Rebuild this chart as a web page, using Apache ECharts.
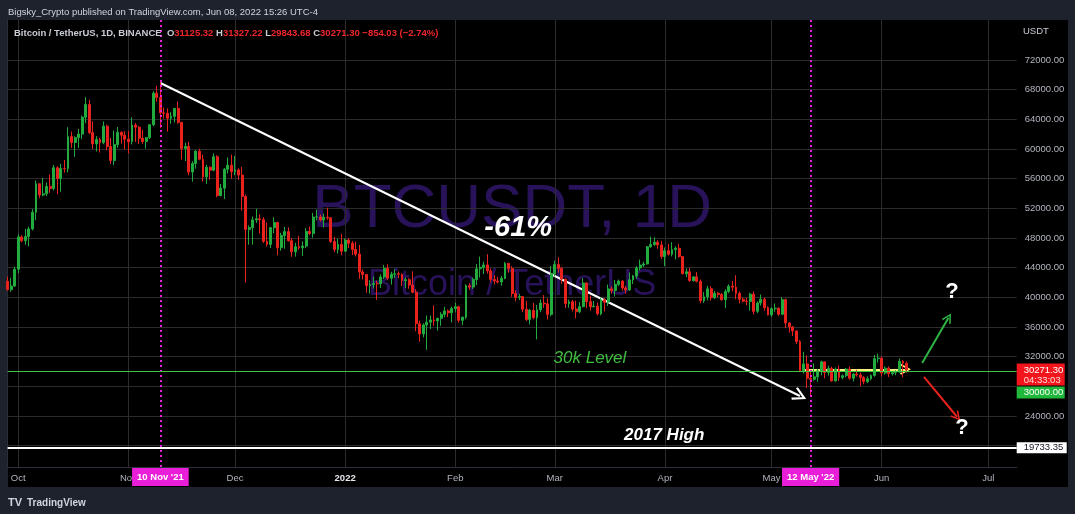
<!DOCTYPE html>
<html>
<head>
<meta charset="utf-8">
<script src="https://cdn.jsdelivr.net/npm/echarts@6/dist/echarts.min.js"></script>
<style>
html,body{margin:0;padding:0;background:#1e222d;}
#chart{width:1075px;height:514px;}
</style>
</head>
<body>
<div id="chart"></div>
<script>
// ---------------- DATA ----------------
const firstDay = '2021-09-28';
const axisDays = 285; // Sep 28 2021 .. Jul 9 2022 (axis span)

const opens = [
  42170, 41030, 41520,
  43790, 48140, 47630, 48200, 49220, 51470, 55320, 53790, 53950, 54950, 54660, 57470, 56010, 57370, 57350, 61670, 60880, 61530, 62010, 64280, 66000, 62210, 60690, 61290, 60860, 63080, 60330, 58450, 60590, 62250, 61860,
  61320, 61000, 63230, 62940, 61440, 61010, 61530, 63270, 67530, 66940, 64880, 64810, 64150, 64400, 65470, 63600, 60060, 60340, 56890, 58050, 59710, 58620, 56250, 57540, 57140, 58960, 53730, 54720, 57270, 57810,
  56950, 57180, 56480, 53600, 49150, 49400, 50440, 50590, 50470, 47550, 47140, 49390, 50080, 46700, 48340, 48860, 47630, 46130, 46830, 46680, 46910, 48890, 48590, 50820, 50840, 50430, 50800, 50720, 47540, 46460, 47120,
  46220, 47720, 47290, 46450, 45830, 43430, 43080, 41560, 41730, 41860, 41820, 42740, 43920, 42590, 43100, 43180, 43110, 42250, 42380, 41660, 40680, 36450, 35070, 36280, 36650, 36950, 36820, 37170, 37710, 38170, 37920,
  38480, 38740, 36900, 37330, 41570, 41380, 42410, 43840, 44040, 44370, 43570, 42410, 42200, 42070, 42540, 44580, 43890, 40520, 40000, 40100, 38390, 37020, 38250, 37260, 38330, 39220, 39120, 37700,
  43190, 44420, 43910, 42450, 39150, 39400, 38420, 38060, 38740, 41940, 39420, 38730, 38810, 37780, 39670, 39340, 41140, 40920, 41760, 42200, 41260, 41000, 42360, 42890, 43960, 44350, 44500, 46820, 47130, 47430, 47070,
  45510, 46280, 45810, 46410, 46620, 45500, 43170, 43440, 42250, 42760, 42160, 39530, 40070, 41150, 39940, 40550, 40380, 39680, 40800, 41500, 41370, 40530, 39740, 39470, 39450, 40430, 38110, 39240, 39740, 38600,
  37630, 38470, 38530, 37710, 39690, 36550, 36010, 35470, 34040, 30100, 31020, 29100, 28940, 29280, 30100, 31300, 29860, 30420, 28720, 30300, 29200, 29430, 30320, 29100, 29650, 29540, 29200, 28630, 29020, 29470, 31730,
  31800, 29800, 30450, 29700, 29860, 29920, 31370, 31125.32
];
const highs = [
  42790, 42630, 44130,
  48500, 48360, 49230, 49530, 51890, 55750, 55340, 56100, 55490, 56560, 57840, 57680, 58000, 58530, 62930, 62350, 61720, 62700, 64490, 67000, 66640, 63730, 61740, 61490, 63710, 63290, 61500, 62500, 62960, 62360, 62400,
  62420, 64270, 63500, 63120, 62590, 61560, 63290, 67790, 68530, 69000, 65600, 65470, 64970, 65500, 66400, 63620, 60840, 60970, 58350, 59840, 60030, 59260, 57880, 57650, 59400, 59170, 55280, 57450, 58870, 59250,
  59070, 57390, 57600, 53860, 49700, 50900, 51950, 51200, 50800, 50100, 49490, 50800, 50200, 48700, 49500, 49430, 48000, 47360, 48300, 47540, 49330, 49570, 51380, 51810, 51170, 51280, 52090, 50720, 48140, 47900, 48550,
  47950, 47990, 47570, 47510, 47070, 43750, 43150, 42300, 42790, 42250, 43100, 44350, 44460, 43450, 43800, 43480, 43200, 42690, 42580, 43510, 41100, 36840, 36500, 37550, 37550, 38920, 37230, 38000, 38720, 38360, 38740,
  39270, 38850, 37390, 41770, 41940, 42660, 44500, 45490, 44800, 45820, 43920, 43000, 42760, 42880, 44770, 44580, 44200, 40960, 40480, 40150, 39500, 38430, 39250, 38970, 39730, 40300, 39860, 44230,
  44950, 45400, 44100, 42520, 39690, 39640, 39550, 39360, 42600, 42040, 40240, 39490, 39310, 39950, 39890, 41720, 41480, 42330, 42400, 42300, 41540, 43350, 43020, 44220, 45090, 44800, 46920, 48190, 48100, 47700, 47600,
  46720, 47210, 47440, 46880, 47200, 45510, 43900, 43970, 42800, 43420, 42410, 40700, 41560, 41500, 40870, 40710, 40600, 41100, 41760, 42200, 42980, 40800, 39980, 39940, 40620, 40800, 39470, 40370, 39930, 38800,
  38670, 39170, 38650, 40020, 39840, 36650, 36140, 35500, 34240, 32660, 32160, 30030, 31080, 30340, 31460, 31300, 30780, 30660, 30540, 30780, 29600, 30480, 30680, 29800, 30230, 29850, 29380, 29330, 29600, 32220, 32400,
  31990, 30690, 30680, 29950, 30170, 31760, 31560, 31327.22
];
const lows = [
  40930, 40750, 41410,
  43280, 47430, 47090, 46890, 49020, 50380, 53360, 53620, 53660, 54080, 54420, 53880, 54250, 56820, 56850, 60150, 58960, 60150, 61320, 63480, 62000, 60000, 59660, 59520, 60650, 59820, 58000, 57820, 60170, 60720, 59940,
  59400, 60620, 60960, 60680, 60720, 60050, 61330, 63080, 66380, 62820, 64100, 62330, 63400, 63580, 63400, 58580, 58370, 56460, 55600, 57350, 58470, 55610, 55300, 55850, 57000, 53500, 53610, 53260, 56700, 56000,
  56460, 55840, 51680, 42000, 47100, 47100, 50040, 48600, 47320, 46850, 46640, 48640, 45670, 46290, 46550, 47520, 45460, 45500, 46400, 45560, 46630, 48420, 48040, 50380, 50230, 49410, 50450, 47310, 46100, 45900, 45680,
  46210, 46650, 45700, 45500, 42500, 42420, 40610, 40500, 41200, 39650, 41270, 42460, 42310, 41730, 42600, 42590, 41540, 41250, 41140, 40550, 35440, 34010, 34600, 32920, 35700, 36150, 35510, 36160, 37300, 37350, 36630,
  38000, 36590, 36250, 37050, 40990, 41120, 41650, 42670, 43120, 43190, 42000, 41750, 41870, 41570, 42430, 43310, 40070, 39450, 39640, 38000, 36800, 36350, 37040, 34320, 38010, 38570, 37000, 37450,
  42820, 43330, 41830, 38550, 38600, 38090, 37160, 37870, 38660, 38540, 38220, 38660, 37580, 37590, 38100, 38830, 40500, 40140, 41500, 40910, 40500, 40880, 41800, 42500, 43600, 44080, 44420, 46650, 46930, 46550, 45200,
  44200, 45620, 45530, 45120, 45350, 43120, 42730, 42110, 42130, 42000, 39200, 39250, 39590, 39550, 39770, 40020, 39550, 38540, 40570, 40820, 39750, 39180, 39320, 38930, 38200, 37700, 37870, 38880, 38180, 37580,
  37390, 38050, 37500, 37670, 35860, 35260, 34790, 33710, 30030, 29730, 27780, 26700, 28750, 28610, 29480, 29090, 29440, 28650, 28670, 28730, 28950, 29230, 28890, 28660, 29300, 28020, 28280, 28440, 28820, 29300, 31200,
  29300, 29590, 29250, 29450, 29490, 29880, 29220, 29843.68
];
const closes = [
  41030, 41520, 43790,
  48140, 47630, 48200, 49220, 51470, 55320, 53790, 53950, 54950, 54660, 57470, 56010, 57370, 57350, 61670, 60880, 61530, 62010, 64280, 66000, 62210, 60690, 61290, 60860, 63080, 60330, 58450, 60590, 62250, 61860, 61320,
  61000, 63230, 62940, 61440, 61010, 61530, 63270, 67530, 66940, 64880, 64810, 64150, 64400, 65470, 63600, 60060, 60340, 56890, 58050, 59710, 58620, 56250, 57540, 57140, 58960, 53730, 54720, 57270, 57810, 56950,
  57180, 56480, 53600, 49150, 49400, 50440, 50590, 50470, 47550, 47140, 49390, 50080, 46700, 48340, 48860, 47630, 46130, 46830, 46680, 46910, 48890, 48590, 50820, 50840, 50430, 50800, 50720, 47540, 46460, 47120, 46220,
  47720, 47290, 46450, 45830, 43430, 43080, 41560, 41730, 41860, 41820, 42740, 43920, 42590, 43100, 43180, 43110, 42250, 42380, 41660, 40680, 36450, 35070, 36280, 36650, 36950, 36820, 37170, 37710, 38170, 37920, 38480,
  38740, 36900, 37330, 41570, 41380, 42410, 43840, 44040, 44370, 43570, 42410, 42200, 42070, 42540, 44580, 43890, 40520, 40000, 40100, 38390, 37020, 38250, 37260, 38330, 39220, 39120, 37700, 43190,
  44420, 43910, 42450, 39150, 39400, 38420, 38060, 38740, 41940, 39420, 38730, 38810, 37780, 39670, 39340, 41140, 40920, 41760, 42200, 41260, 41000, 42360, 42890, 43960, 44350, 44500, 46820, 47130, 47430, 47070, 45510,
  46280, 45810, 46410, 46620, 45500, 43170, 43440, 42250, 42760, 42160, 39530, 40070, 41150, 39940, 40550, 40380, 39680, 40800, 41500, 41370, 40530, 39740, 39470, 39450, 40430, 38110, 39240, 39740, 38600, 37630,
  38470, 38530, 37710, 39690, 36550, 36010, 35470, 34040, 30100, 31020, 29100, 28940, 29280, 30100, 31300, 29860, 30420, 28720, 30300, 29200, 29430, 30320, 29100, 29650, 29540, 29200, 28630, 29020, 29470, 31730, 31800,
  29800, 30450, 29700, 29860, 29920, 31370, 31130, 30271.30
];

const priceGridLines = [20000, 24000, 28000, 32000, 36000, 40000, 44000, 48000, 52000, 56000, 60000, 64000, 68000, 72000];
const priceTickLabels = [24000, 32000, 36000, 40000, 44000, 48000, 52000, 56000, 60000, 64000, 68000, 72000];
const monthNames = ['Jan','Feb','Mar','Apr','May','Jun','Jul','Aug','Sep','Oct','Nov','Dec'];

const level30k = 30000;
const high2017 = 19733.35;
const priceChange = '−854.03 (−2.74%)';
const countdown = '04:33:03';
const markedDays = [{date: '2021-11-10', text: "10 Nov '21"}, {date: '2022-05-12', text: "12 May '22"}];

// drawings (day index from first day, price)
const trendLine = [[43, 68900], [223, 26700]];
const upArrow = [[257.4, 31150], [264.8, 37250]];
const downArrow = [[257.9, 29280], [267.2, 23900]];
const rangeArrow = [[223.9, 30300], [252.7, 30300]];
const notes = [
  {at: [143.7, 49360], text: '-61%', kind: 'big'},
  {at: [163.9, 31850], text: '30k Level', kind: 'green'},
  {at: [184.8, 21330], text: '2017 High', kind: 'white'},
  {at: [265.8, 40700], text: '?', kind: 'q'},
  {at: [268.6, 22400], text: '?', kind: 'q'}
];

// ---------------- BUILD ----------------
const FONT = '"Liberation Sans", Arial, sans-serif';
const UP = '#22ab3f', DOWN = '#e8221d', MAGENTA = '#e91ed8', GREENLINE = '#43c443';

const dates = [];
const t0 = Date.parse(firstDay + 'T00:00:00Z');
for (let i = 0; i < axisDays; i++) dates.push(new Date(t0 + i * 86400000).toISOString().slice(0, 10));

const candleData = closes.map((c, i) => [opens[i], c, lows[i], highs[i]]);
const isMonthStart = (idx, val) => typeof val === 'string' ? val.slice(8) === '01' : dates[idx].slice(8) === '01';

const chevron = 'path://M0,10 L6,0 L12,10 L10.4,11 L6,3.4 L1.6,11 Z';

const noteStyles = {
  big: {fontSize: 29, fontWeight: 'bold', fontStyle: 'italic', color: '#ffffff'},
  green: {fontSize: 17, fontWeight: 'normal', fontStyle: 'italic', color: '#3fbf3f'},
  white: {fontSize: 17, fontWeight: 'bold', fontStyle: 'italic', color: '#ffffff'},
  q: {fontSize: 22, fontWeight: 'bold', color: '#ffffff'}
};

const last = closes.length - 1;
const fmt = v => v.toFixed(2);

const chart = echarts.init(document.getElementById('chart'), null, {renderer: 'canvas'});

const option = {
  animation: false,
  backgroundColor: '#1e222d',
  textStyle: {fontFamily: FONT},
  title: [
    {text: 'Bigsky_Crypto published on TradingView.com, Jun 08, 2022 15:26 UTC-4', left: 8, top: 7.5, padding: 0,
     textStyle: {color: '#d1d4dc', fontSize: 9.5, fontWeight: 'normal', fontFamily: FONT}},
    {text: '{n|Bitcoin / TetherUS, 1D, BINANCE}  {k|O}{v|' + fmt(opens[last]) + '} {k|H}{v|' + fmt(highs[last]) +
       '} {k|L}{v|' + fmt(lows[last]) + '} {k|C}{v|' + fmt(closes[last]) + '} {v|' + priceChange + '}',
     left: 14, top: 28.5, padding: 0,
     textStyle: {fontSize: 9.5, fontFamily: FONT, rich: {
       n: {color: '#c9ccd4', fontSize: 9.5, fontFamily: FONT},
       k: {color: '#c9ccd4', fontSize: 9.5, fontFamily: FONT},
       v: {color: '#f0262a', fontSize: 9.5, fontFamily: FONT}}}},
    {text: 'USDT', left: 1023, top: 26.5, padding: 0, textStyle: {color: '#c9ccd4', fontSize: 9.5, fontWeight: 'normal', fontFamily: FONT}},
    {text: '{l|TV} {t|TradingView}', left: 8, top: 494, padding: 0, textStyle: {rich: {
       l: {color: '#d1d4dc', fontSize: 11, fontWeight: 'bold', fontFamily: FONT},
       t: {color: '#d1d4dc', fontSize: 10, fontFamily: FONT}}}}
  ],
  grid: {left: 7.6, right: 58.3, top: 20, bottom: 47, containLabel: false},
  xAxis: [
    {
      type: 'category', data: dates, boundaryGap: false,
      axisLine: {show: true, lineStyle: {color: '#2a2e39', width: 1}},
      axisTick: {show: false},
      axisLabel: {
        interval: isMonthStart, margin: 6, color: '#b2b5be', fontSize: 9.5, fontFamily: FONT,
        formatter: v => {
          const m = +v.slice(5, 7);
          return m === 1 ? '{y|' + v.slice(0, 4) + '}' : monthNames[m - 1];
        },
        rich: {y: {color: '#e6e8ee', fontWeight: 'bold', fontSize: 9.5, fontFamily: FONT}}
      },
      splitLine: {show: true, interval: isMonthStart, lineStyle: {color: '#2c2c2c', width: 1}}
    },
    {type: 'value', min: 0, max: axisDays - 1, show: false}
  ],
  yAxis: {
    type: 'value', position: 'right', min: 17124, max: 77393, scale: true,
    axisLine: {show: true, lineStyle: {color: '#2a2e39', width: 1}},
    axisTick: {show: false, customValues: priceGridLines},
    axisLabel: {customValues: priceTickLabels, formatter: v => v.toFixed(2), color: '#b2b5be', fontSize: 9.5, margin: 8, fontFamily: FONT},
    splitLine: {show: true, lineStyle: {color: '#2c2c2c', width: 1}}
  },
  series: [
    {
      type: 'candlestick', name: 'BTCUSDT', xAxisIndex: 0, yAxisIndex: 0,
      data: candleData, barWidth: 2.4,
      itemStyle: {color: UP, color0: DOWN, borderColor: UP, borderColor0: DOWN, borderWidth: 1},
      markLine: {
        silent: true, symbol: 'none', animation: false,
        data: [
          ...markedDays.map(m => ({
            xAxis: m.date,
            lineStyle: {color: MAGENTA, type: [2, 3], width: 2},
            label: {show: true, position: 'start', formatter: m.text, distance: 1,
                    backgroundColor: MAGENTA, color: '#ffffff', fontSize: 9.5, fontWeight: 'bold',
                    fontFamily: FONT, padding: [4, 5, 4, 5], lineHeight: 10}
          })),
          {yAxis: level30k, lineStyle: {color: GREENLINE, type: 'solid', width: 1}, label: {show: false}},
          {yAxis: high2017, lineStyle: {color: '#ffffff', type: 'solid', width: 2}, label: {show: false}}
        ]
      }
    },
    {
      type: 'lines', coordinateSystem: 'cartesian2d', xAxisIndex: 1, yAxisIndex: 0, silent: true,
      symbol: ['none', chevron], symbolSize: [17, 14],
      lineStyle: {color: '#ffffff', width: 2, opacity: 1},
      data: [{coords: trendLine}]
    },
    {
      type: 'lines', coordinateSystem: 'cartesian2d', xAxisIndex: 1, yAxisIndex: 0, silent: true,
      symbol: ['none', chevron], symbolSize: [20, 11],
      lineStyle: {color: '#f6ef7c', width: 2, opacity: 1},
      data: [{coords: rangeArrow}]
    },
    {
      type: 'lines', coordinateSystem: 'cartesian2d', xAxisIndex: 1, yAxisIndex: 0, silent: true,
      symbol: ['none', chevron], symbolSize: [14, 10],
      lineStyle: {color: '#2fb344', width: 2, opacity: 1},
      data: [{coords: upArrow}]
    },
    {
      type: 'lines', coordinateSystem: 'cartesian2d', xAxisIndex: 1, yAxisIndex: 0, silent: true,
      symbol: ['none', chevron], symbolSize: [14, 10],
      lineStyle: {color: '#e8221d', width: 2, opacity: 1},
      data: [{coords: downArrow}]
    },
    {
      type: 'scatter', xAxisIndex: 1, yAxisIndex: 0, silent: true, symbolSize: 0,
      itemStyle: {opacity: 1},
      data: notes.map(n => ({value: n.at, label: Object.assign({show: true, position: 'inside', formatter: n.text, opacity: 1, fontFamily: FONT}, noteStyles[n.kind])}))
    }
  ]
};
chart.setOption(option);

// price-scale boxes and panel decorations positioned through the chart's own scales
const yOf = v => chart.convertToPixel({yAxisIndex: 0}, v);
const xLeft = chart.convertToPixel({xAxisIndex: 1}, 0);
const xRight = chart.convertToPixel({xAxisIndex: 1}, axisDays - 1);
const yTop = yOf(77393), yBottom = yOf(17124);
const yLast = yOf(closes[last]);
const y2017 = yOf(high2017);
const redTop = yLast - 6, redH = 22;
const greenTop = redTop + redH + 1, greenH = 12;
const boxFont = '9.5px ' + FONT;
const midX = (xLeft + xRight) / 2, midY = (yTop + yBottom) / 2;

chart.setOption({
  graphic: [
    {type: 'rect', z: -100, silent: true, shape: {x: 8, y: yTop, width: 1060, height: yBottom - yTop + 20}, style: {fill: '#000000'}},
    {type: 'text', z: -90, silent: true, x: midX, y: midY - 34, style: {text: 'BTCUSDT, 1D', fill: '#28125a', font: '62px ' + FONT, align: 'center', verticalAlign: 'middle'}},
    {type: 'text', z: -90, silent: true, x: midX, y: midY + 42, style: {text: 'Bitcoin / TetherUS', fill: '#28125a', font: '36px ' + FONT, align: 'center', verticalAlign: 'middle'}},
    {type: 'rect', z: 50, silent: true, shape: {x: xRight, y: redTop, width: 48, height: redH}, style: {fill: '#f2161c'}},
    {type: 'text', z: 51, silent: true, x: xRight + 7, y: yLast + 0.5, style: {text: fmt(closes[last]), fill: '#ffffff', font: boxFont, verticalAlign: 'middle'}},
    {type: 'text', z: 51, silent: true, x: xRight + 7, y: yLast + 11, style: {text: countdown, fill: '#ffdddd', font: boxFont, verticalAlign: 'middle'}},
    {type: 'rect', z: 50, silent: true, shape: {x: xRight, y: greenTop, width: 48, height: greenH}, style: {fill: '#1fb83a'}},
    {type: 'text', z: 51, silent: true, x: xRight + 7, y: greenTop + greenH / 2, style: {text: fmt(level30k), fill: '#ffffff', font: boxFont, verticalAlign: 'middle'}},
    {type: 'rect', z: 50, silent: true, shape: {x: xRight, y: y2017 - 5.5, width: 50, height: 11}, style: {fill: '#ffffff'}},
    {type: 'text', z: 51, silent: true, x: xRight + 7, y: y2017, style: {text: fmt(high2017), fill: '#131722', font: boxFont, verticalAlign: 'middle'}}
  ]
});
</script>
</body>
</html>
